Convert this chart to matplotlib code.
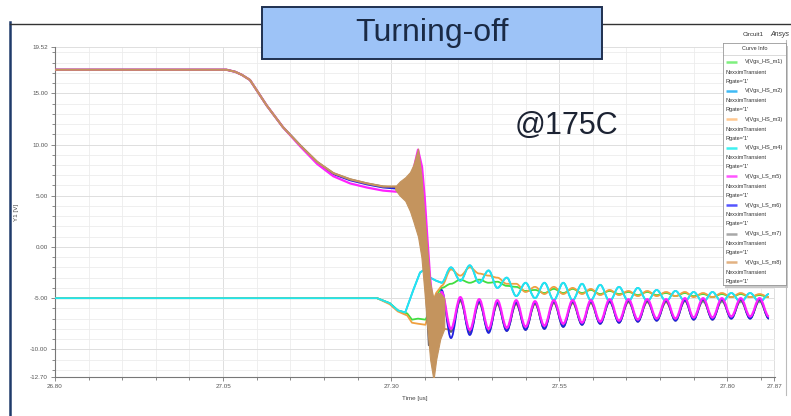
import matplotlib
matplotlib.use("Agg")
import matplotlib.pyplot as plt
from matplotlib.ticker import MultipleLocator, FixedLocator
from matplotlib.patches import Rectangle, PathPatch
from matplotlib.lines import Line2D
from matplotlib.path import Path

plt.rcParams['font.family'] = ['Liberation Sans', 'DejaVu Sans']

# ---- data (time in us, voltage in V) ----
# low side gate voltages, flat part and fall to the Miller plateau
t_ls_pre = [26.80, 27.055, 27.068, 27.078, 27.090, 27.115, 27.139, 27.165, 27.190, 27.214, 27.239, 27.264, 27.288, 27.306]
ls_pre_m5 = [17.3, 17.3, 17.1, 16.8, 16.3, 13.8, 11.7, 9.8, 8.1, 6.9, 6.2, 5.8, 5.5, 5.4]
ls_pre_m6 = [17.3, 17.3, 17.1, 16.8, 16.3, 13.8, 11.7, 9.9, 8.2, 7.1, 6.5, 6.1, 5.8, 5.7]
ls_pre_m7 = [17.3, 17.3, 17.1, 16.8, 16.3, 13.8, 11.7, 9.9, 8.3, 7.2, 6.6, 6.2, 5.9, 5.8]
ls_pre_m8 = [17.3, 17.3, 17.1, 16.8, 16.3, 13.8, 11.7, 9.9, 8.3, 7.2, 6.6, 6.2, 5.9, 5.9]

# switching event
t_m5_evt = [27.313, 27.326, 27.333, 27.340, 27.346, 27.350, 27.354, 27.358, 27.362, 27.366]
m5_evt = [5.4, 6.0, 7.5, 9.5, 7.8, 4.8, 0.8, -3.0, -5.6, -7.5]
t_m6_evt = [27.313, 27.326, 27.340, 27.350, 27.358, 27.366]
m6_evt = [5.7, 5.6, 4.5, 1.0, -4.0, -8.0]
t_m7_evt = [27.313, 27.326, 27.340, 27.350, 27.356, 27.362]
m7_evt = [5.7, 5.3, 3.5, -2.0, -9.6, -9.0]

# high frequency burst of m8 (envelope)
burst_t = [27.306, 27.313, 27.321, 27.328, 27.333, 27.340, 27.345, 27.349, 27.354, 27.358, 27.363, 27.367, 27.373, 27.379]
burst_hi = [5.9, 6.4, 6.8, 7.3, 8.0, 9.6, 7.0, 3.5, -0.5, -3.5, -5.0, -4.5, -4.5, -5.0]
burst_lo = [5.6, 5.0, 4.5, 3.5, 2.5, 1.0, -1.0, -4.0, -8.0, -11.0, -13.0, -11.0, -9.0, -8.0]

# ringing after turn-off (peaks / troughs)
t_ring = [27.375, 27.389, 27.403, 27.417, 27.431, 27.445, 27.458, 27.472, 27.486, 27.500,
          27.514, 27.528, 27.542, 27.556, 27.570, 27.584, 27.597, 27.611, 27.625, 27.639,
          27.653, 27.667, 27.681, 27.695, 27.709, 27.723, 27.737, 27.750, 27.764, 27.778,
          27.792, 27.806, 27.820, 27.834, 27.848, 27.862]
ring_m5 = [-4.4, -8.0, -4.9, -8.1, -5.1, -8.0, -5.2, -7.9, -5.2, -7.8, -5.3, -7.7, -5.2, -7.5, -5.2, -7.4, -5.2, -7.3,
           -5.1, -7.2, -5.1, -7.1, -5.1, -7.0, -5.1, -7.0, -5.0, -6.9, -5.0, -6.9, -5.0, -6.8, -5.0, -6.8, -5.0, -6.8]
ring_m6 = [-4.2, -8.9, -5.0, -8.6, -5.3, -8.4, -5.4, -8.2, -5.4, -8.1, -5.4, -8.0, -5.3, -7.8, -5.3, -7.6, -5.3, -7.5,
           -5.3, -7.4, -5.2, -7.3, -5.2, -7.2, -5.2, -7.2, -5.2, -7.1, -5.1, -7.1, -5.1, -7.0, -5.1, -7.0, -5.1, -7.0]
ring_m7 = [-4.8, -8.3, -5.2, -8.4, -5.4, -8.3, -5.5, -8.2, -5.5, -8.1, -5.5, -8.0, -5.4, -7.8, -5.4, -7.6, -5.4, -7.5,
           -5.3, -7.4, -5.3, -7.3, -5.3, -7.2, -5.3, -7.2, -5.2, -7.1, -5.2, -7.1, -5.2, -7.0, -5.2, -7.0, -5.2, -7.0]
ring_m8 = [-8.1, -5.3, -8.2, -5.5, -8.1, -5.6, -8.0, -5.6, -7.9, -5.6, -7.8, -5.5, -7.6, -5.5, -7.5, -5.5, -7.4,
           -5.4, -7.3, -5.4, -7.2, -5.4, -7.1, -5.4, -7.1, -5.3, -7.0, -5.3, -7.0, -5.3, -6.9, -5.3, -6.9, -5.3, -6.9]

# high side gate voltages
t_hs_head = [26.80, 27.279, 27.298, 27.310, 27.324, 27.331, 27.340, 27.351, 27.358, 27.367]
hs_m1_head = [-5.0, -5.0, -5.5, -6.2, -6.5, -7.1, -7.0, -7.1, -6.3, -4.8]
hs_m3_head = [-5.0, -5.0, -5.6, -6.3, -6.7, -7.4, -7.5, -7.6, -6.0, -4.5]
t_m4_head = [26.80, 27.279, 27.298, 27.310, 27.321, 27.333, 27.343, 27.350, 27.358, 27.367]
hs_m4_head = [-5.0, -5.0, -5.5, -6.2, -6.4, -4.2, -2.5, -2.2, -3.0, -3.3]

ring_m1 = [-4.0, -3.6, -3.2, -3.5, -3.2, -3.5, -3.4, -3.8, -3.9, -4.3, -4.2, -4.5, -4.1, -4.5, -4.1, -4.5, -4.2, -4.6,
           -4.3, -4.6, -4.4, -4.7, -4.4, -4.7, -4.5, -4.8, -4.5, -4.8, -4.6, -4.9, -4.6, -4.9, -4.6, -4.9, -4.7, -4.9]
ring_m3 = [-3.8, -2.2, -2.8, -2.0, -2.6, -2.8, -3.0, -3.6, -3.6, -4.4, -3.9, -4.6, -3.9, -4.6, -4.0, -4.6, -4.1, -4.7,
           -4.2, -4.7, -4.3, -4.8, -4.3, -4.8, -4.4, -4.8, -4.4, -4.9, -4.5, -4.9, -4.5, -4.9, -4.5, -4.9, -4.6, -4.9]
ring_m4 = [-3.5, -2.0, -3.3, -1.8, -3.5, -2.3, -4.0, -3.0, -4.8, -3.5, -5.0, -3.5, -5.2, -3.5, -5.2, -3.6, -5.2, -3.7,
           -5.3, -3.9, -5.3, -4.0, -5.3, -4.2, -5.3, -4.3, -5.3, -4.4, -5.4, -4.4, -5.4, -4.5, -5.4, -4.5, -5.4, -4.6]

x_ticks = [26.80, 27.05, 27.30, 27.55, 27.80, 27.87]
y_ticks = [19.52, 15.00, 10.00, 5.00, 0.00, -5.00, -10.00, -12.70]

curve_names = ["V(Vgs_HS_m1)", "V(Vgs_HS_m2)", "V(Vgs_HS_m3)", "V(Vgs_HS_m4)",
               "V(Vgs_LS_m5)", "V(Vgs_LS_m6)", "V(Vgs_LS_m7)", "V(Vgs_LS_m8)"]
legend_colors = ['#7ef07e', '#3fbaf5', '#ffc890', '#3ff0f0', '#ff55ff', '#5555ff', '#a8a8a8', '#e3b282']

c_m1, c_m2, c_m3, c_m4 = '#40dd40', '#22aaee', '#f0a040', '#22e6f0'
c_m5, c_m6, c_m7, c_m8 = '#ff22ff', '#2020e0', '#5e5e6e', '#c4945e'


def wave(ax, t_head, v_head, t_w, v_w, color, lw, z):
    # straight segments for the slow part, rounded segments between ringing extremes
    verts = list(zip(t_head, v_head)) + [(t_w[0], v_w[0])]
    codes = [Path.MOVETO] + [Path.LINETO] * len(t_head)
    for i in range(1, len(t_w)):
        d = (t_w[i] - t_w[i - 1]) * 0.36
        verts += [(t_w[i - 1] + d, v_w[i - 1]), (t_w[i] - d, v_w[i]), (t_w[i], v_w[i])]
        codes += [Path.CURVE4] * 3
    ax.add_patch(PathPatch(Path(verts, codes), fill=False, edgecolor=color, lw=lw,
                           zorder=z, joinstyle='round'))


W, H = 791, 416
fig = plt.figure(figsize=(W / 100, H / 100), dpi=100)
fig.patch.set_facecolor('white')

ax = fig.add_axes([55 / W, 1 - 377 / H, 720 / W, 330 / H])
lw = 1.3

# high side
wave(ax, t_m4_head, hs_m4_head, t_ring, ring_m4, c_m2, lw, 2)
wave(ax, t_hs_head, hs_m1_head, t_ring, ring_m1, c_m1, lw, 2.5)
wave(ax, t_hs_head, hs_m3_head, t_ring, ring_m3, c_m3, lw, 2.6)
wave(ax, t_m4_head, hs_m4_head, t_ring, ring_m4, c_m4, lw, 2.8)

# low side
wave(ax, [burst_t[-1]], [burst_lo[-1]], t_ring[1:], ring_m8, c_m8, lw, 3)
wave(ax, t_ls_pre + t_m7_evt, ls_pre_m7 + m7_evt, t_ring, ring_m7, c_m7, lw, 3.2)
wave(ax, t_ls_pre + t_m6_evt, ls_pre_m6 + m6_evt, t_ring, ring_m6, c_m6, lw, 3.4)
wave(ax, t_ls_pre + t_m5_evt, ls_pre_m5 + m5_evt, t_ring, ring_m5, c_m5, lw + 0.3, 3.5)
ax.fill_between(burst_t, burst_lo, burst_hi, color=c_m8, lw=0.8, zorder=3.6)
ax.plot(t_ls_pre, ls_pre_m8, color=c_m8, lw=lw + 0.3, zorder=4)

ax.set_xlim(26.80, 27.871)
ax.set_ylim(-12.70, 19.52)
ax.xaxis.set_major_locator(FixedLocator(x_ticks))
ax.xaxis.set_minor_locator(MultipleLocator(0.05))
ax.yaxis.set_major_locator(FixedLocator(y_ticks))
ax.yaxis.set_minor_locator(MultipleLocator(1))
ax.set_xticklabels([f"{v:.2f}" for v in x_ticks])
ax.set_yticklabels([f"{v:.2f}" for v in y_ticks])
ax.tick_params(which='both', labelsize=4.5, labelcolor='#555555', color='#777777', width=0.6)
ax.tick_params(which='major', length=3, pad=2)
ax.tick_params(which='minor', length=2)
ax.grid(True, which='major', color='#dedede', lw=0.7)
ax.grid(True, which='minor', color='#ececec', lw=0.6)
ax.set_axisbelow(True)
for s in ['top', 'right']:
    ax.spines[s].set_visible(False)
for s in ['left', 'bottom']:
    ax.spines[s].set_color('#777777')
    ax.spines[s].set_linewidth(0.8)
ax.set_xlabel("Time [us]", fontsize=4.5, color='#444444', labelpad=5)
ax.set_ylabel("Y1 [V]", fontsize=4.5, color='#444444', labelpad=8)

# window frame
fig.add_artist(Line2D([10 / W, 10 / W], [0, 1 - 22 / H], color='#1f3a6a', lw=1.8))
fig.add_artist(Line2D([10 / W, 1], [1 - 24 / H, 1 - 24 / H], color='#333333', lw=1.0))
fig.add_artist(Line2D([786 / W, 786 / W], [1 - 395 / H, 1 - 40 / H], color='#bbbbbb', lw=0.8))

# title box
fig.add_artist(Rectangle((262 / W, 1 - 59 / H), 340 / W, 52 / H, facecolor='#9dc3f7',
                         edgecolor='#1f3050', lw=1.4, zorder=3))
fig.text(432 / W, 1 - 33 / H, "Turning-off", fontsize=23, color='#1a2a45', ha='center', va='center', zorder=4)
fig.text(566 / W, 1 - 134 / H, "@175C", fontsize=22, color='#1c2333', ha='center', va='baseline')

# header texts of the simulator window
fig.text(743 / W, 1 - 35 / H, "Circuit1", fontsize=4.5, color='#333333', va='center')
fig.text(770 / W, 1 - 35 / H, "Ansys", fontsize=5, color='#333333', va='center', style='italic')

# curve info box with a small shadow
fig.add_artist(Rectangle((725 / W, 1 - 288 / H), 63 / W, 242 / H, facecolor='#c8c8c8',
                         edgecolor='none', zorder=1))
lax = fig.add_axes([723 / W, 1 - 285 / H, 63 / W, 242 / H])
lax.set_zorder(2)
lax.set_xlim(0, 63)
lax.set_ylim(242, 0)
lax.set_xticks([])
lax.set_yticks([])
lax.set_facecolor('white')
for s in lax.spines.values():
    s.set_color('#999999')
    s.set_linewidth(0.6)
lax.text(31.5, 6, "Curve Info", fontsize=4, color='#333333', ha='center', va='center')
lax.plot([0, 63], [12, 12], color='#cccccc', lw=0.5)
for i, (name, col) in enumerate(zip(curve_names, legend_colors)):
    y0 = 19 + 28.6 * i
    lax.plot([3, 14], [y0, y0], color=col, lw=1.8, solid_capstyle='butt')
    lax.text(22, y0, name, fontsize=4, color='#333333', va='center', clip_on=True)
    lax.text(2, y0 + 10, "NexximTransient", fontsize=4, color='#333333', va='center', clip_on=True)
    lax.text(2, y0 + 19, "Rgate='1'", fontsize=4, color='#333333', va='center', clip_on=True)

fig.savefig("out.png", dpi=100)
